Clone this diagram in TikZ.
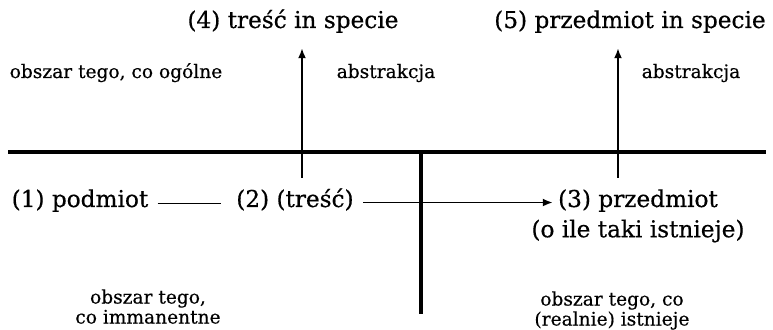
\documentclass[tikz,border=0pt]{standalone}
\usepackage{fontspec}
\setmainfont{DejaVu Serif}[FakeBold=0.5]
\usetikzlibrary{arrows.meta,positioning}

\begin{document}
\begin{tikzpicture}[
  x=0.5pt,y=-0.5pt,
  font=\fontsize{11.6}{14.5}\selectfont,
  term/.style={inner sep=2.5pt},
  area/.style={font=\fontsize{9.3}{10}\selectfont,align=center,inner sep=0pt},
  border/.style={line width=1.7pt},
  flow/.style={-{Latex[length=5pt,width=4pt]},line width=0.9pt},
  link/.style={line width=0.7pt},
]
  \useasboundingbox (0,0) rectangle (773,330);

  \coordinate (left)  at (8,152);
  \coordinate (right) at (766,152);
  \coordinate (cross) at (421,152);
  \coordinate (down)  at (421,314);
  \coordinate (abs4)  at (302,178);
  \coordinate (abs5)  at (618,178);

  \node[term,anchor=base] (n4) at (293,28)  {(4) treść in specie};
  \node[term,anchor=base] (n5) at (630,28)  {(5) przedmiot in specie};

  \node[area,anchor=base] (general) at (116,78) {obszar tego, co ogólne};
  \node[area,anchor=base] (absA)    at (386,78) {abstrakcja};
  \node[area,anchor=base] (absB)    at (691,78) {abstrakcja};

  \node[term,anchor=base] (n1) at (80,207)  {(1) podmiot};
  \node[term,anchor=base] (n2) at (295,207) {(2) (treść)};
  \node[term,anchor=base] (n3) at (638,207) {(3) przedmiot};
  \node[term,below=-1.5pt of n3] (n3b) {(o ile taki istnieje)};

  \node[area,anchor=north] (immanent) at (148,289) {obszar tego,\\ co immanentne};
  \node[area,anchor=north] (real)     at (612,291) {obszar tego, co\\ (realnie) istnieje};

  \draw[border] (left) -- (right);
  \draw[border] (cross) -- (down);

  \draw[flow,shorten >=5pt] (abs4) -- (abs4 |- n4.south);
  \draw[flow,shorten >=5pt] (abs5) -- (abs5 |- n5.south);

  \draw[link,shorten <=2pt,shorten >=5pt] ([yshift=-1.5pt]n1.east) -- ([yshift=-1.5pt]n1.east -| n2.west);
  \draw[flow,shorten <=2pt] ([yshift=-1.5pt]n2.east) -- ([yshift=-1.5pt]n2.east -| n3.west);
\end{tikzpicture}
\end{document}
